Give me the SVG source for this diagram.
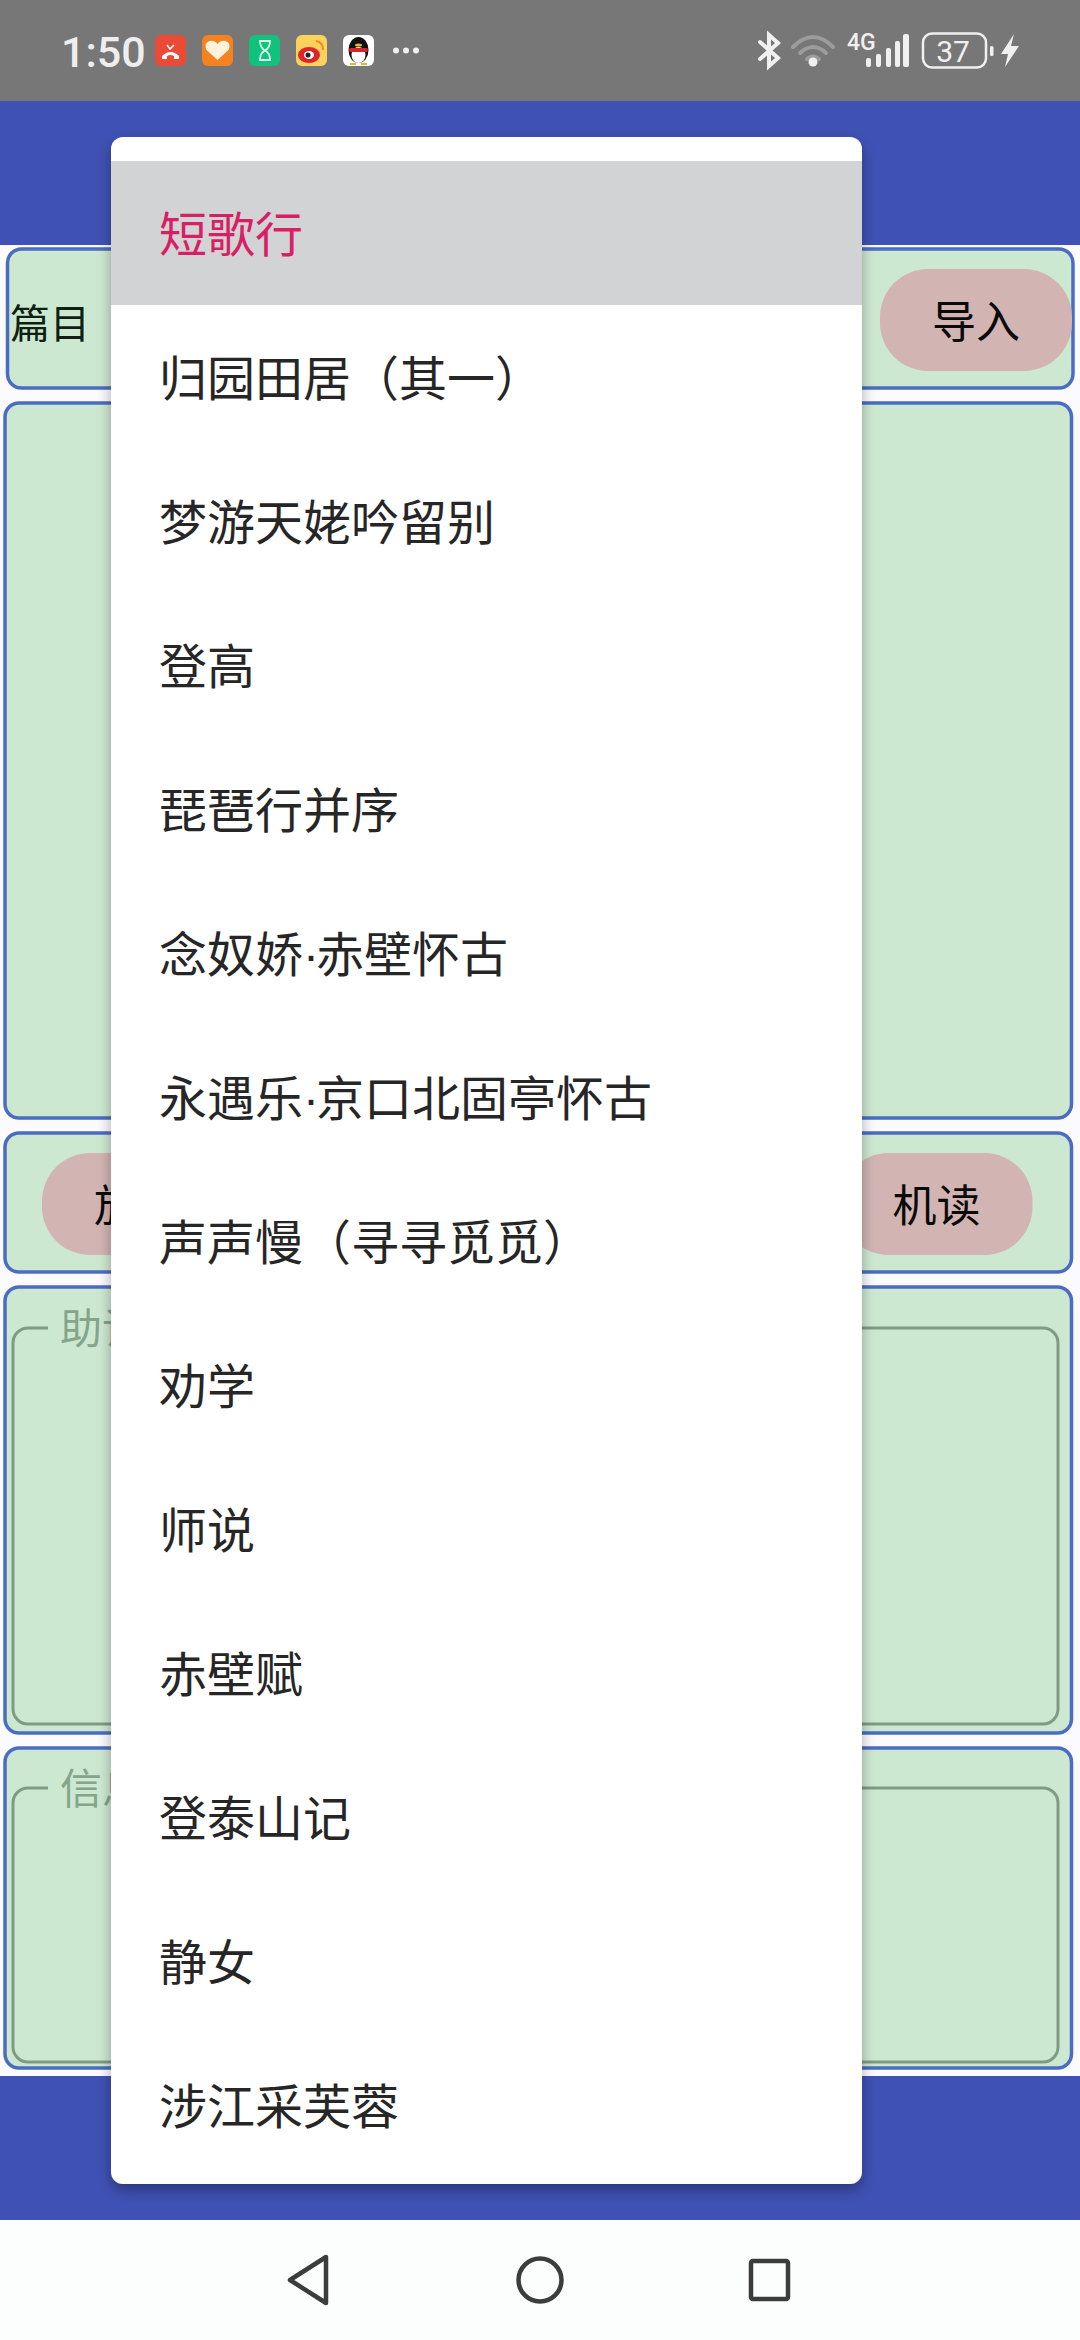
<svg xmlns="http://www.w3.org/2000/svg" width="1080" height="2340" viewBox="0 0 1080 2340">
<defs>
<style>
text{font-family:"Noto Sans CJK SC","Noto Sans",sans-serif}
.card{fill:#cde8d1;stroke:#4a6cc2;stroke-width:3.5}
.btn{fill:#d2b4b3}
.btntx{font-size:44px;fill:#0a0a0a}
.inner{fill:none;stroke:#7f9b82;stroke-width:3}
.hint{font-size:42px;fill:#84a58a}
.item{font-size:48px;fill:#262626}
.dot{font-family:"Liberation Sans",sans-serif}
.nav{fill:none;stroke:#3c3c3c;stroke-width:4.500;stroke-linejoin:round}
.st{fill:#f0f0f0}
.stl{fill:none;stroke:#f0f0f0;stroke-linecap:round}
.wf{fill:none;stroke:#9c9c9c;stroke-width:4;stroke-linecap:round}
</style>
<filter id="menuShadow" x="-5%" y="-5%" width="110%" height="110%">
<feDropShadow dx="0" dy="6" stdDeviation="7" flood-color="#000" flood-opacity="0.32"/>
</filter>
</defs>
<rect id="page" width="1080" height="2340" fill="#fbfbff"/>
<g id="status-bar">
<rect width="1080" height="101" fill="#777777"/>
<text x="61" y="67" style="font-family:Roboto,'Noto Sans',sans-serif;font-size:43px;font-weight:500" fill="#eeeeee">1:50</text>
<g id="icon-phone"><rect x="155" y="35" width="31" height="31" rx="6" fill="#ea4a36"/><path d="M162 56q8.500-8 17 0v3h-5v-3q-3.500-2-7 0v3h-5z" fill="#fff"/><path d="M167 45l3 4 4-4" fill="none" stroke="#fff" stroke-width="1.500"/></g>
<g id="icon-heart"><rect x="202" y="35" width="31" height="31" rx="6" fill="#f58220"/><path d="M217.500 60l-11-10q-3-7 3-9 5-1 8 3 3-4 8-3 6 2 3 9z" fill="#fff2dd"/></g>
<g id="icon-hourglass"><rect x="249" y="35" width="31" height="31" rx="6" fill="#10c27c"/><path d="M259 41h12M259 60h12M260 41q0 7 5 9.500q5-2.500 5-9.500M260 60q0-7 5-9.500q5 2.500 5 9.500" fill="none" stroke="#d8fbe8" stroke-width="1.800"/></g>
<g id="icon-weibo"><rect x="296" y="35" width="31" height="31" rx="6" fill="#fbd25c"/><ellipse cx="309" cy="55" rx="11" ry="8" fill="#e0242b"/><ellipse cx="309" cy="55" rx="5" ry="4" fill="#fff"/><circle cx="308" cy="55" r="2.500" fill="#222"/><path d="M316 41q7 1 7 9" fill="none" stroke="#f08a1e" stroke-width="2"/></g>
<g id="icon-qq"><rect x="343" y="35" width="31" height="31" rx="6" fill="#fff"/><ellipse cx="358.500" cy="50" rx="10" ry="13" fill="#111"/><ellipse cx="358.500" cy="55" rx="7" ry="8" fill="#fff"/><rect x="349" y="48" width="19" height="4" rx="2" fill="#d8232a"/><ellipse cx="358.500" cy="45" rx="3.500" ry="1.500" fill="#f0b429"/><path d="M350 64h6M361 64h6" stroke="#f0b429" stroke-width="2"/></g>
<circle class="st" cx="396" cy="50.500" r="3"/><circle class="st" cx="406" cy="50.500" r="3"/><circle class="st" cx="416" cy="50.500" r="3"/>
<g id="icon-bluetooth"><path class="stl" stroke-width="4" fill="none" d="M760 42l18 16-9 8v-31l9 8-18 16"/></g>
<g id="icon-wifi"><path class="wf" d="M793 47q20-20 40 0M800 53q13-12 26 0M807 59q6-5 12 0"/><circle cx="813" cy="62" r="4.500" fill="#f0f0f0"/></g>
<text x="847" y="50" style="font-family:Roboto,sans-serif;font-size:23px;font-weight:500" fill="#f0f0f0">4G</text>
<g id="icon-signal" class="st"><rect x="866" y="58" width="5" height="9" rx="2"/><rect x="876" y="54" width="5" height="13" rx="2"/><rect x="886" y="48" width="5" height="19" rx="2"/><rect x="903" y="34" width="6" height="33" rx="2"/><rect x="895" y="41" width="5" height="26" rx="2"/></g>
<g id="icon-battery"><rect x="923" y="33.500" width="63" height="34" rx="9" fill="none" stroke="#f0f0f0" stroke-width="2.500"/><text x="953" y="62" text-anchor="middle" style="font-family:Roboto,sans-serif;font-size:30px" fill="#f0f0f0">37</text><rect x="990" y="46" width="3.500" height="10" rx="1.500" class="st"/><path class="st" d="M1014 34l-13 20h7l-3 13 14-21h-8z"/></g>
</g>
<rect id="top-bar" y="101" width="1080" height="144" fill="#3f51b4"/>
<rect id="bottom-bar" y="2076" width="1080" height="144" fill="#3f51b4"/>
<g id="card-title">
<rect class="card" x="7.500" y="249" width="1065.500" height="139" rx="14"/>
<text x="10" y="338" font-size="40" fill="#0f1f12">篇目</text>
<rect class="btn" x="880" y="269" width="192" height="102" rx="48"/>
<text class="btntx" x="932" y="338">导入</text>
</g>
<g id="card-content"><rect class="card" x="5" y="403" width="1066.500" height="715" rx="14"/></g>
<g id="card-actions">
<rect class="card" x="5" y="1133" width="1066.500" height="139" rx="14"/>
<rect class="btn" x="42" y="1153" width="192" height="102" rx="48"/>
<text class="btntx" x="94" y="1222">放</text>
<rect class="btn" x="840.500" y="1153" width="192" height="102" rx="48"/>
<text class="btntx" x="892.500" y="1222">机读</text>
</g>
<g id="card-helper">
<rect class="card" x="5" y="1287" width="1066.500" height="446" rx="14"/>
<path class="inner" d="M48 1328H28a15 15 0 0 0-15 15V1709a15 15 0 0 0 15 15H1043a15 15 0 0 0 15-15V1343a15 15 0 0 0-15-15H120"/>
<text class="hint" x="60" y="1344">助记</text>
</g>
<g id="card-info">
<rect class="card" x="5" y="1748" width="1066.500" height="320" rx="14"/>
<path class="inner" d="M48 1788H28a15 15 0 0 0-15 15V2047a15 15 0 0 0 15 15H1043a15 15 0 0 0 15-15V1803a15 15 0 0 0-15-15H120"/>
<text class="hint" x="60" y="1804">信息</text>
</g>
<g id="menu">
<rect x="111" y="137" width="751" height="2047" rx="12" fill="#ffffff" filter="url(#menuShadow)"/>
<rect x="111" y="161" width="751" height="144" fill="#d2d3d5"/>
<text x="159" y="252" font-size="48" fill="#d81f63">短歌行</text>
<text class="item" x="159" y="396">归园田居（其一）</text>
<text class="item" x="159" y="540">梦游天姥吟留别</text>
<text class="item" x="159" y="684">登高</text>
<text class="item" x="159" y="828">琵琶行并序</text>
<text class="item" x="159" y="972">念奴娇<tspan class="dot">·</tspan><tspan dx="-3">赤壁怀古</tspan></text>
<text class="item" x="159" y="1116">永遇乐<tspan class="dot">·</tspan><tspan dx="-3">京口北固亭怀古</tspan></text>
<text class="item" x="159" y="1260">声声慢（寻寻觅觅）</text>
<text class="item" x="159" y="1404">劝学</text>
<text class="item" x="159" y="1548">师说</text>
<text class="item" x="159" y="1692">赤壁赋</text>
<text class="item" x="159" y="1836">登泰山记</text>
<text class="item" x="159" y="1980">静女</text>
<text class="item" x="159" y="2124">涉江采芙蓉</text>
</g>
<g id="nav-bar">
<rect y="2220" width="1080" height="120" fill="#fcfdfd"/>
<path class="nav" d="M290 2280L326 2257V2303Z"/>
<circle class="nav" cx="540" cy="2280" r="21.500"/>
<rect class="nav" x="751" y="2261" width="37" height="38" rx="2"/>
</g>
</svg>
